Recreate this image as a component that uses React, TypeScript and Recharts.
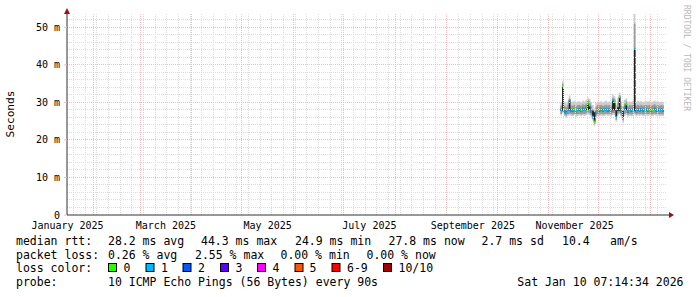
import React from 'react';
import {
    ComposedChart,
    Area,
    XAxis,
    YAxis,
    ReferenceLine,
    ReferenceDot,
} from 'recharts';

// one sample per day, day numbers counted from 2025-01-01
const firstDay = 311;

// median rtt in ms
const median = [
    28.0, 34.3, 27.6, 27.2, 28.0, 30.6, 27.9, 27.8, 28.2, 27.7,
    28.0, 28.1, 27.8, 28.3, 28.0, 28.6, 29.8, 29.2, 27.6, 26.2,
    24.9, 27.4, 28.0, 27.9, 28.1, 27.8, 28.0, 28.2, 27.9, 28.1,
    27.8, 30.6, 30.1, 26.1, 29.0, 31.4, 27.5, 25.8, 28.6, 29.5,
    27.6, 28.0, 27.9, 28.0, 44.3, 27.7, 28.1, 27.9, 28.2, 27.8,
    28.0, 28.1, 27.9, 28.2, 27.8, 28.0, 28.3, 27.9, 28.1, 27.8,
    28.0, 27.9, 27.8,
];

// lost pings out of 10
const loss = [
    1, 0, 1, 1, 1, 1, 1, 1, 0, 1,
    1, 1, 0, 1, 1, 0, 0, 0, 1, 1,
    0, 1, 1, 1, 0, 1, 1, 1, 1, 1,
    1, 1, 0, 1, 0, 0, 1, 1, 1, 0,
    1, 1, 1, 1, 1, 1, 1, 0, 1, 1,
    1, 1, 0, 1, 1, 0, 1, 1, 1, 0,
    1, 1, 1,
];

// smoke: spread of the single pings
const pingMin = [
    26.5, 27.2, 26.3, 25.9, 26.4, 26.6, 26.4, 26.3, 26.6, 26.2,
    26.4, 26.5, 26.3, 26.6, 26.4, 26.6, 26.8, 26.6, 26.1, 25.2,
    23.8, 26.0, 26.4, 26.3, 26.5, 26.3, 26.4, 26.6, 26.4, 26.5,
    26.3, 26.7, 26.6, 24.9, 26.5, 26.9, 26.0, 24.6, 26.4, 26.7,
    26.2, 26.4, 26.3, 26.4, 26.8, 26.3, 26.5, 26.4, 26.6, 26.3,
    26.4, 26.5, 26.4, 26.6, 26.3, 26.4, 26.6, 26.4, 26.5, 26.3,
    26.4, 26.3, 26.4,
];
const pingQ1 = [
    26.9, 27.5, 26.8, 26.5, 26.9, 27.0, 26.9, 26.8, 27.0, 26.8,
    26.9, 27.0, 26.8, 27.0, 26.9, 27.1, 27.3, 27.1, 26.6, 25.6,
    24.3, 26.5, 26.9, 26.8, 27.0, 26.8, 26.9, 27.0, 26.9, 27.0,
    26.8, 27.2, 27.1, 25.4, 27.0, 27.3, 26.5, 25.1, 26.9, 27.2,
    26.7, 26.9, 26.8, 26.9, 27.2, 26.8, 27.0, 26.9, 27.0, 26.8,
    26.9, 27.0, 26.9, 27.0, 26.8, 26.9, 27.0, 26.9, 27.0, 26.8,
    26.9, 26.8, 26.9,
];
const pingCoreLo = [
    27.7, 27.8, 27.3, 26.9, 27.7, 27.9, 27.6, 27.5, 27.9, 27.4,
    27.7, 27.8, 27.5, 28.0, 27.7, 28.0, 28.0, 28.0, 27.3, 26.2,
    24.9, 27.1, 27.7, 27.6, 27.8, 27.5, 27.7, 27.9, 27.6, 27.8,
    27.5, 27.9, 27.9, 26.1, 27.8, 27.8, 27.2, 25.8, 28.2, 28.0,
    27.3, 27.7, 27.6, 27.7, 27.8, 27.4, 27.8, 27.6, 27.9, 27.5,
    27.7, 27.8, 27.6, 27.9, 27.5, 27.7, 28.0, 27.6, 27.8, 27.5,
    27.7, 27.6, 27.5,
];
const pingCoreHi = [
    28.3, 34.3, 27.9, 27.6, 28.3, 30.6, 28.2, 28.1, 28.5, 28.0,
    28.3, 28.4, 28.1, 28.6, 28.3, 28.9, 29.8, 29.2, 27.9, 27.8,
    27.4, 27.7, 28.3, 28.2, 28.4, 28.1, 28.3, 28.5, 28.2, 28.4,
    28.1, 30.6, 30.1, 27.9, 29.0, 31.4, 27.8, 27.8, 28.9, 29.5,
    27.9, 28.3, 28.2, 28.3, 44.3, 28.0, 28.4, 28.2, 28.5, 28.1,
    28.3, 28.4, 28.2, 28.5, 28.1, 28.3, 28.6, 28.2, 28.4, 28.1,
    28.3, 28.2, 28.1,
];
const pingQ3 = [
    29.2, 35.0, 29.1, 28.8, 29.3, 31.0, 29.2, 29.1, 29.4, 29.0,
    29.3, 29.3, 29.1, 29.5, 29.3, 29.7, 30.6, 30.2, 29.0, 28.2,
    27.0, 28.9, 29.3, 29.2, 29.3, 29.1, 29.2, 29.4, 29.2, 29.3,
    29.1, 31.2, 30.8, 28.0, 30.0, 31.9, 29.1, 27.6, 29.7, 30.3,
    29.0, 29.3, 29.2, 29.3, 51.0, 29.1, 29.4, 29.2, 29.4, 29.1,
    29.3, 29.3, 29.2, 29.4, 29.1, 29.3, 29.5, 29.2, 29.3, 29.1,
    29.3, 29.2, 29.1,
];
const pingMax = [
    30.0, 35.6, 30.1, 29.8, 30.3, 31.8, 30.1, 30.2, 30.4, 30.0,
    30.2, 30.3, 30.1, 30.5, 30.2, 30.7, 31.3, 30.9, 30.0, 29.3,
    28.4, 29.9, 30.2, 30.1, 30.3, 30.0, 30.2, 30.4, 30.1, 30.3,
    30.0, 32.2, 31.6, 29.4, 31.0, 32.6, 30.2, 29.0, 30.7, 31.1,
    30.0, 30.2, 30.1, 30.3, 53.6, 30.1, 30.4, 30.2, 30.4, 30.1,
    30.2, 30.3, 30.2, 30.4, 30.1, 30.2, 30.5, 30.2, 30.3, 30.1,
    30.2, 30.1, 30.0,
];

// time axis
const xMin = 15.2;
const xMax = 374.9;
const monthStarts = [31, 59, 90, 120, 151, 181, 212, 243, 273, 304, 334, 365];
const labelMonthStarts = [0, 59, 120, 181, 243, 304];
const monthLabels = ['January 2025', 'March 2025', 'May 2025', 'July 2025', 'September 2025', 'November 2025'];
const firstMonday = 19;

// value axis
const yMax = 53.54;
const yTicks = [0, 10, 20, 30, 40, 50];

const lossColors = ['#26ff00', '#00b8ff', '#0059ff', '#5e00ff', '#ff00ff', '#ff5500', '#ff0000', '#a10000'];
const lossLabels = ['0', '1', '2', '3', '4', '5', '6-9', '10/10'];

// median is drawn smokeping-style as a thin band, about 2px high
const medHalf = 0.27;

const data = median.map((m, i) => ({
    day: firstDay + i,
    medBand: [m - medHalf, m + medHalf],
    outer: [pingMin[i], pingMax[i]],
    mid: [pingQ1[i], pingQ3[i]],
    core: [pingCoreLo[i], pingCoreHi[i]],
}));

const labelTicks = labelMonthStarts.map(d => d + 15.5);
const labelFor = (v: number) => monthLabels[labelTicks.indexOf(v)] ?? '';

const weekLines: number[] = [];
for (let d = firstMonday; d < xMax; d += 7) weekLines.push(d);
const minorY: number[] = [];
for (let v = 2; v < yMax; v += 2) if (v % 10 !== 0) minorY.push(v);
const majorY = yTicks.filter(v => v > 0);

const lossColor = (l: number) => (l >= 10 ? lossColors[7] : l >= 6 ? lossColors[6] : lossColors[l]);

const n = median.length;
const gradStops: { off: number; color: string }[] = [];
loss.forEach((l, i) => {
    if (i >= n - 1) return;
    gradStops.push({ off: i / (n - 1), color: lossColor(l) });
    gradStops.push({ off: (i + 1) / (n - 1), color: lossColor(l) });
});

const MONO = '"DejaVu Sans Mono", monospace';
const minorColor = '#dcdcdc';
const majorColor = '#f0c0c0';

const XArrow = (p: any) => (
    <g>
        <line x1={p.cx} y1={p.cy} x2={p.cx + 3} y2={p.cy} stroke="#333" />
        <path d={`M${p.cx + 2},${p.cy - 3} L${p.cx + 7},${p.cy} L${p.cx + 2},${p.cy + 3} Z`} fill="#a01010" />
    </g>
);
const YArrow = (p: any) => (
    <g>
        <path d={`M${p.cx - 3},${p.cy} L${p.cx},${p.cy - 6} L${p.cx + 3},${p.cy} Z`} fill="#a01010" />
    </g>
);

const legendLines = [
    { y: 245, parts: [[16, 'median rtt:'], [108, '28.2 ms avg'], [201, '44.3 ms max'], [295, '24.9 ms min'], [388.5, '27.8 ms now'], [481.5, '2.7 ms sd'], [562, '10.4'], [610, 'am/s']] },
    { y: 258.5, parts: [[16, 'packet loss:'], [108, '0.26 % avg'], [195, '2.55 % max'], [280.5, '0.00 % min'], [366.5, '0.00 % now']] },
    { y: 272, parts: [[16, 'loss color:']] },
    { y: 286, parts: [[16, 'probe:'], [108, '10 ICMP Echo Pings (56 Bytes) every 90s']] },
];
const boxX = [108.5, 146, 183, 220.5, 257.5, 295, 332, 383.5];
const boxLabelX = [123.5, 161, 198, 235.5, 272.5, 309.5, 347, 398.5];

const gridProps = { strokeDasharray: '1 1', shapeRendering: 'crispEdges' } as any;

const App = () => (
    <div style={{ position: 'absolute', left: 0, top: 0, width: 697, height: 297, background: '#fff' }}>
        <ComposedChart width={697} height={297} data={data}
                       margin={{ top: 14, right: 30, left: 0, bottom: 62 }}>
            <defs>
                <linearGradient id="lossGrad" x1="0" y1="0" x2="1" y2="0">
                    {gradStops.map((s, i) => (
                        <stop key={i} offset={s.off} stopColor={s.color} />
                    ))}
                </linearGradient>
            </defs>
            <XAxis dataKey="day" type="number" domain={[xMin, xMax]} allowDataOverflow
                   ticks={labelTicks} tickFormatter={labelFor} interval={0}
                   height={20} tickLine={false} tickSize={0} tickMargin={7}
                   axisLine={{ stroke: '#333' }}
                   tick={{ fontFamily: MONO, fontSize: 10, fill: '#000' }} />
            <YAxis type="number" domain={[0, yMax]} allowDataOverflow ticks={yTicks}
                   tickFormatter={(v: number) => (v === 0 ? '0' : `${v} m`)}
                   width={67} tickSize={3} tickMargin={4}
                   tickLine={{ stroke: majorColor }} axisLine={{ stroke: '#333' }}
                   tick={{ fontFamily: MONO, fontSize: 10, fill: '#000' }} />
            {minorY.map(v => (
                <ReferenceLine key={`my${v}`} y={v} stroke={minorColor} {...gridProps} />
            ))}
            {weekLines.map(d => (
                <ReferenceLine key={`w${d}`} x={d} stroke={minorColor} {...gridProps} />
            ))}
            {majorY.map(v => (
                <ReferenceLine key={`My${v}`} y={v} stroke={majorColor} {...gridProps} />
            ))}
            {monthStarts.map(d => (
                <ReferenceLine key={`m${d}`} x={d} stroke={majorColor} {...gridProps} />
            ))}
            <Area type="stepAfter" dataKey="outer" stroke="none" fill="#cdcdcd" fillOpacity={1} isAnimationActive={false} />
            <Area type="stepAfter" dataKey="mid" stroke="none" fill="#9a9a9a" fillOpacity={1} isAnimationActive={false} />
            <Area type="stepAfter" dataKey="core" stroke="none" fill="#222222" fillOpacity={1} isAnimationActive={false} />
            <Area type="stepAfter" dataKey="medBand" stroke="none" fill="url(#lossGrad)" fillOpacity={1} isAnimationActive={false} />
            <ReferenceDot x={xMax} y={0} r={0} ifOverflow="visible" shape={XArrow} />
            <ReferenceDot x={xMin} y={yMax} r={0} ifOverflow="visible" shape={YArrow} />
        </ComposedChart>
        <svg width={697} height={297} style={{ position: 'absolute', left: 0, top: 0, pointerEvents: 'none' }}>
            <text transform="translate(14,114) rotate(-90)" textAnchor="middle"
                  fontFamily={MONO} fontSize={11.2} fill="#000">Seconds</text>
            <text transform="translate(684,5) rotate(90)" textAnchor="start"
                  fontFamily={MONO} fontSize={8} fill="#b8b8b8">RRDTOOL / TOBI OETIKER</text>
            {legendLines.map((ln, i) => ln.parts.map(([x, t], j) => (
                <text key={`${i}-${j}`} x={x as number} y={ln.y} fontFamily={MONO} fontSize={11.5}
                      fill="#000" xmlSpace="preserve">{t}</text>
            )))}
            {lossColors.map((c, i) => (
                <g key={c}>
                    <rect x={boxX[i]} y={263.5} width={8} height={8} fill={c} stroke="#000" />
                    <text x={boxLabelX[i]} y={272} fontFamily={MONO} fontSize={11.5} fill="#000">{lossLabels[i]}</text>
                </g>
            ))}
            <text x={683.5} y={286} textAnchor="end" fontFamily={MONO} fontSize={11.5} fill="#000">
                Sat Jan 10 07:14:34 2026
            </text>
        </svg>
    </div>
);

export default App;
